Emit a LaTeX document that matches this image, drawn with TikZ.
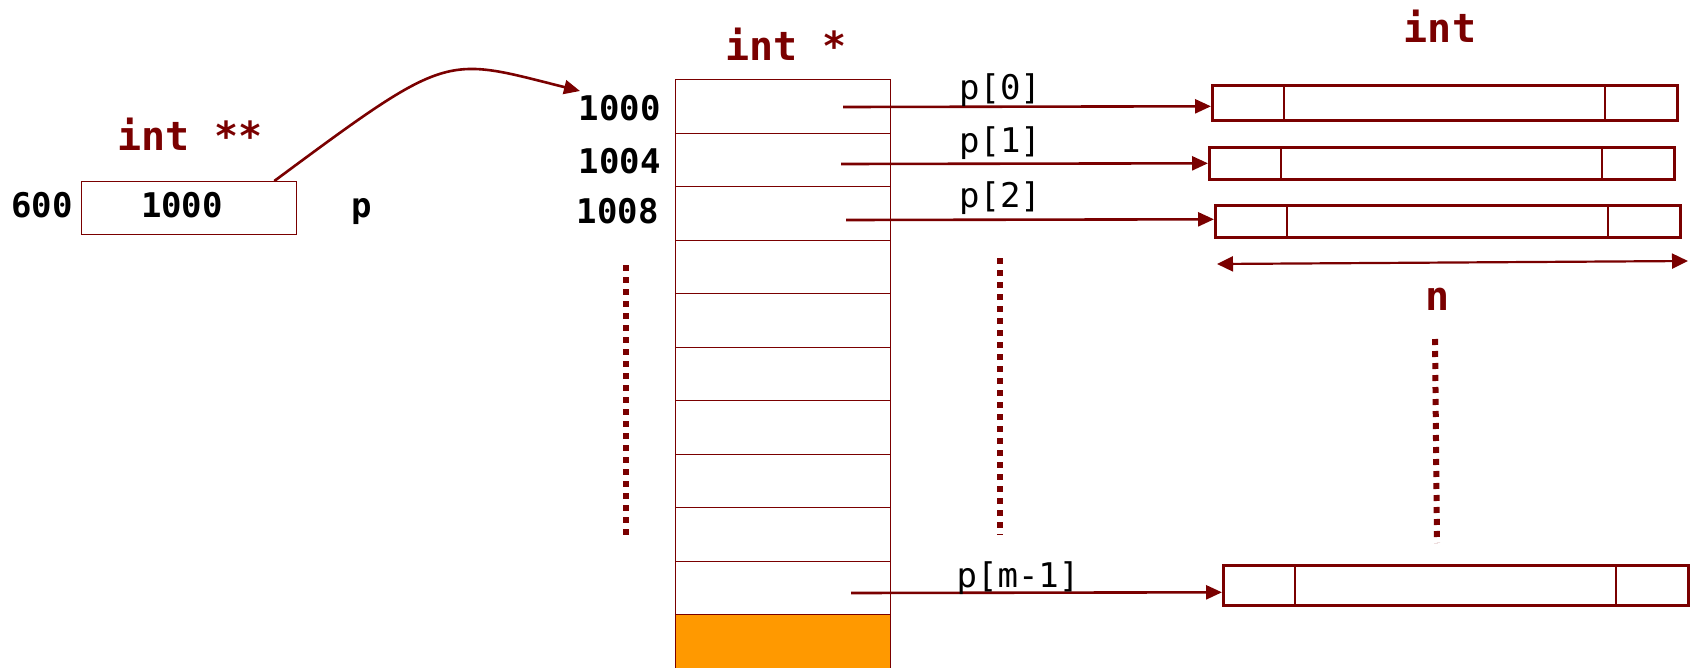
\documentclass[tikz,border=0pt]{standalone}
\usepackage{fontspec}
\setmonofont{DejaVu Sans Mono}
\usetikzlibrary{arrows.meta}
\definecolor{maroon}{RGB}{122,0,0}
\definecolor{cellorange}{RGB}{255,153,0}
\begin{document}
\begin{tikzpicture}[x=1pt,y=-1pt,
  cell/.style={draw=maroon, line width=1.2pt, minimum width=215pt, minimum height=53.5pt, inner sep=0pt, anchor=north west},
  rowbox/.style={draw=maroon, line width=2.6pt, minimum width=465pt, inner sep=0pt, anchor=north west},
  divider/.style={draw=maroon, line width=2pt},
  ptr/.style={draw=maroon, line width=2.6pt, -{Triangle[length=16pt,width=14pt]}},
  span/.style={draw=maroon, line width=2.2pt, {Triangle[length=16pt,width=15pt]}-{Triangle[length=16pt,width=15pt]}},
  numlab/.style={font=\ttfamily\bfseries\fontsize{34}{34}\selectfont, inner sep=0pt, text=black},
  head/.style={font=\ttfamily\bfseries\fontsize{40}{40}\selectfont, inner sep=0pt, text=maroon},
  idx/.style={font=\ttfamily\fontsize{34}{34}\selectfont, inner sep=0pt, text=black},
  dots/.style={draw=maroon, line width=6pt, dash pattern=on 6pt off 6pt}
]
\useasboundingbox (0,0) rectangle (1690,667);

% the double pointer p
\node[draw=maroon, line width=1.3pt, minimum width=215pt, minimum height=53pt, inner sep=0pt, anchor=north west] (pbox) at (81,181) {};
\node[numlab, anchor=base] (pval) at (182,217) {1000};
\node[numlab, anchor=base] (paddr) at (42,217) {600};
\node[numlab, anchor=base] (pname) at (362,217) {p};
\node[head, anchor=base] (ptype) at (190,150) {int **};

% the array of row pointers
\node[head, anchor=base] (ctype) at (786,60) {int *};
\foreach \i in {0,...,9}
  \node[cell] (c\i) at (675,{79+\i*53.5}) {};
\node[cell, fill=cellorange] (c10) at (675,{79+10*53.5}) {};
\node[numlab, anchor=base east] (a0) at (661,120) {1000};
\node[numlab, anchor=base east] (a1) at (661,173) {1004};
\node[numlab, anchor=base east] (a2) at (659,223) {1008};

% p points at the first row pointer
\coordinate (a0tip) at (580,91);
\draw[ptr] ([xshift=-23pt]pbox.north east) .. controls (451,50) and (444,57) .. (a0tip);

% the rows of ints
\node[head, anchor=base] (ntype) at (1440,42) {int};
\node[rowbox, minimum height=35pt] (r0) at (1211,84) {};
\node[rowbox, minimum height=32pt] (r1) at (1208,146) {};
\node[rowbox, minimum height=32pt] (r2) at (1214,204) {};
\node[rowbox, minimum height=40pt] (rm) at (1222,564) {};
\foreach \r in {r0,r1,r2,rm} {
  \draw[divider] ([xshift=73pt]\r.north west) -- ([xshift=73pt]\r.south west);
  \draw[divider] ([xshift=-74pt]\r.north east) -- ([xshift=-74pt]\r.south east);
}

% row pointers
\coordinate (s0) at (843,107);
\coordinate (s1) at (841,164);
\coordinate (s2) at (846,220);
\coordinate (sm) at (851,593);
\draw[ptr] (s0) -- ([yshift=-3.5pt]r0.west);
\draw[ptr] (s1) -- (r1.west);
\draw[ptr] (s2) -- ([yshift=2pt]r2.west);
\draw[ptr] (sm) -- ([yshift=-7pt]rm.west);
\node[idx] (l0) at (1000,90) {p[0]};
\node[idx] (l1) at (1000,143) {p[1]};
\node[idx] (l2) at (1000,198) {p[2]};
\node[idx] (lm) at (1018,578) {p[m-1]};

% row length
\coordinate (nl) at (1217,264);
\coordinate (nr) at (1688,261);
\draw[span] (nl) -- (nr);
\node[head, anchor=base] (nlab) at (1438,310) {n};

% ellipses
\draw[dots] (626,265) -- (626,540);
\draw[dots] (1000,258) -- (1000,535);
\draw[dots] (1435,339) -- (1437,543);
\end{tikzpicture}
\end{document}
